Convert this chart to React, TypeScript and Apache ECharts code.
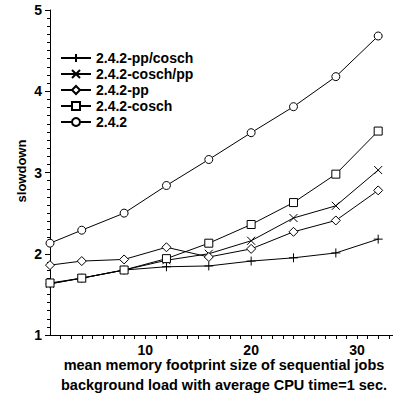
import React, { useEffect, useRef } from "react";
import * as echarts from "echarts";

const xValues = [1, 4, 8, 12, 16, 20, 24, 28, 32];
const seriesNames = ["2.4.2-pp/cosch", "2.4.2-cosch/pp", "2.4.2-pp", "2.4.2-cosch", "2.4.2"];
const ppCosch = [1.63, 1.7, 1.8, 1.84, 1.85, 1.91, 1.95, 2.01, 2.18];
const coschPp = [1.63, 1.7, 1.8, 1.92, 2.0, 2.16, 2.44, 2.59, 3.03];
const pp = [1.86, 1.91, 1.93, 2.08, 1.96, 2.06, 2.27, 2.41, 2.78];
const cosch = [1.64, 1.7, 1.8, 1.94, 2.13, 2.36, 2.63, 2.98, 3.51];
const base = [2.13, 2.29, 2.5, 2.84, 3.16, 3.49, 3.81, 4.18, 4.68];
const yTicks = [1, 2, 3, 4, 5];
const xTickLabels = [10, 20, 30];

const FONT = "'Liberation Sans', Arial, Helvetica, sans-serif";
const PLUS = "path://M0,5L10,5M5,0L5,10";
const CROSS = "path://M0,0L10,10M0,10L10,0";

export default function App() {
  const ref = useRef<HTMLDivElement>(null);
  useEffect(() => {
    if (!ref.current) return;
    const chart = echarts.init(ref.current, null, { renderer: "svg" });
    const allValues = [ppCosch, coschPp, pp, cosch, base];
    const symbols = [PLUS, CROSS, "diamond", "rect", "circle"];
    const sizes = [9, 8, 9, 8, 8];
    const series = allValues.map((vals, i) => ({
      name: seriesNames[i],
      type: "line",
      data: xValues.map((x, j) => [x, vals[j]]),
      symbol: symbols[i],
      symbolSize: sizes[i],
      showAllSymbol: true,
      lineStyle: { color: "#000", width: 1 },
      itemStyle: { color: "#fff", borderColor: "#000", borderWidth: 1 },
      z: 2 + i,
    }));
    chart.setOption({
      animation: false,
      backgroundColor: "#fff",
      grid: { left: 50, right: 0, top: 10, bottom: 59, containLabel: false },
      legend: {
        orient: "vertical",
        left: 55,
        top: 46,
        itemWidth: 30,
        itemHeight: 10,
        itemGap: 2,
        data: seriesNames,
        textStyle: { fontFamily: FONT, fontWeight: "bold", fontSize: 14, color: "#000", lineHeight: 14 },
      },
      xAxis: {
        type: "value",
        min: 1,
        max: 33.4,
        interval: 1,
        axisLine: { show: true, lineStyle: { color: "#000", width: 1 } },
        axisTick: { show: true, length: 4, lineStyle: { color: "#000" } },
        axisLabel: {
          show: true,
          showMinLabel: false,
          showMaxLabel: false,
          margin: 8,
          fontFamily: FONT,
          fontWeight: "bold",
          fontSize: 14,
          color: "#000",
          formatter: (v: number) => (xTickLabels.includes(v) ? String(v) : ""),
        },
        splitLine: { show: false },
      },
      yAxis: {
        type: "value",
        min: yTicks[0],
        max: yTicks[yTicks.length - 1],
        interval: 1,
        axisLine: { show: true, lineStyle: { color: "#000", width: 1 } },
        axisTick: { show: true, length: 5, lineStyle: { color: "#000" } },
        minorTick: { show: true, splitNumber: 10, length: 3, lineStyle: { color: "#000" } },
        axisLabel: { margin: 8, fontFamily: FONT, fontWeight: "bold", fontSize: 14, color: "#000" },
        splitLine: { show: false },
      },
      graphic: [
        {
          type: "text",
          style: {
            text: "mean memory footprint size of sequential jobs",
            x: 224,
            y: 365,
            align: "center",
            verticalAlign: "middle",
            font: `bold 14.5px ${FONT}`,
            fill: "#000",
          },
        },
        {
          type: "text",
          style: {
            text: "background load with average CPU time=1 sec.",
            x: 224,
            y: 385,
            align: "center",
            verticalAlign: "middle",
            font: `bold 14.5px ${FONT}`,
            fill: "#000",
          },
        },
        {
          type: "text",
          x: 21,
          y: 171,
          rotation: Math.PI / 2,
          style: {
            text: "slowdown",
            x: 0,
            y: 0,
            align: "center",
            verticalAlign: "middle",
            font: `bold 13px ${FONT}`,
            fill: "#000",
          },
        },
      ],
      series,
    });
    return () => chart.dispose();
  }, []);
  return (
    <div
      ref={ref}
      style={{ position: "absolute", left: 0, top: 0, width: 393, height: 394, background: "#fff" }}
    />
  );
}
